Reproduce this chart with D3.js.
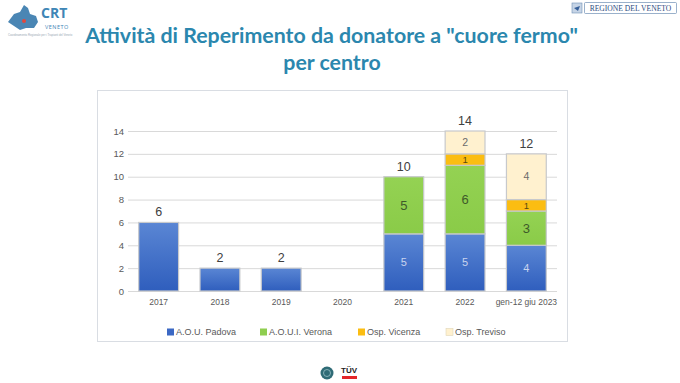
<!DOCTYPE html>
<html><head><meta charset="utf-8">
<script src="https://cdn.jsdelivr.net/npm/d3@7"></script>
<style>body{margin:0;background:#fff}svg{display:block}</style>
</head><body>
<svg id="c" width="680" height="383"></svg>
<script>
const categories = ["2017","2018","2019","2020","2021","2022","gen-12 giu 2023"];
const padova  = [6,2,2,0,5,5,4];
const verona  = [0,0,0,0,5,6,3];
const vicenza = [0,0,0,0,0,1,1];
const treviso = [0,0,0,0,0,2,4];
const seriesNames = ["A.O.U. Padova","A.O.U.I. Verona","Osp. Vicenza","Osp. Treviso"];
const yTicks = [0,2,4,6,8,10,12,14];

const svg = d3.select("#c");
const defs = svg.append("defs");
const gb = defs.append("linearGradient").attr("id","gBlue").attr("x1",0).attr("y1",0).attr("x2",0).attr("y2",1);
gb.append("stop").attr("offset","0%").attr("stop-color","#5a86d4");
gb.append("stop").attr("offset","100%").attr("stop-color","#2f5ebd");
const gg = defs.append("linearGradient").attr("id","gGreen").attr("x1",0).attr("y1",0).attr("x2",0).attr("y2",1);
gg.append("stop").attr("offset","0%").attr("stop-color","#94d253");
gg.append("stop").attr("offset","100%").attr("stop-color","#8acb48");

const fills = ["url(#gBlue)","url(#gGreen)","#fbbd12","#fff1cf"];
const legendFills = ["#3b68c4","#8fce4f","#fbbd12","#fff1cf"];

// Title
const titleColor = "#2b87ae";
const t1 = svg.append("text").attr("x",331.5).attr("y",43).attr("text-anchor","middle")
  .attr("font-family","Lato, 'Open Sans', sans-serif").attr("font-weight","bold")
  .attr("font-size",22).attr("fill",titleColor)
  .text('Attività di Reperimento da donatore a "cuore fermo"');
const w1 = t1.node().getComputedTextLength();
const fs = 22*493/w1;
t1.attr("font-size", fs);
svg.append("text").attr("x",332).attr("y",70).attr("text-anchor","middle")
  .attr("font-family","Lato, 'Open Sans', sans-serif").attr("font-weight","bold")
  .attr("font-size",fs).attr("fill",titleColor).text("per centro");

// Chart frame
svg.append("rect").attr("x",97.5).attr("y",90.5).attr("width",470).attr("height",251)
  .attr("fill","#fff").attr("stroke","#d9dde3").attr("stroke-width",1);

const x = d3.scaleBand().domain(categories).range([128,557]).paddingInner(0.35).paddingOuter(0.175);
const y = d3.scaleLinear().domain([0,14]).range([291,131]);

const font = "'Liberation Sans', Arial, sans-serif";
// gridlines
svg.append("g").selectAll("line").data(yTicks).join("line")
  .attr("x1",128).attr("x2",557).attr("y1",d=>y(d)+0.5).attr("y2",d=>y(d)+0.5)
  .attr("stroke","#d9d9d9").attr("stroke-width",1);

// y axis
const yAxis = svg.append("g").attr("transform","translate(124,0)")
  .call(d3.axisLeft(y).tickValues(yTicks).tickSize(0).tickPadding(0));
yAxis.select(".domain").remove();
yAxis.selectAll("text").attr("font-family",font).attr("font-size",9.5).attr("fill","#595959");

// x axis
const xAxis = svg.append("g").attr("transform","translate(0,299)")
  .call(d3.axisBottom(x).tickSize(0).tickPadding(0));
xAxis.select(".domain").remove();
xAxis.selectAll("text").attr("font-family",font).attr("font-size",8.5).attr("fill","#595959");

// stacks
const table = categories.map((c,i)=>({cat:c, s0:padova[i], s1:verona[i], s2:vicenza[i], s3:treviso[i]}));
const stack = d3.stack().keys(["s0","s1","s2","s3"])(table);
const layers = svg.append("g").selectAll("g").data(stack).join("g").attr("fill",(d,i)=>fills[i]);
layers.selectAll("rect").data(d=>d.filter(p=>p[1]-p[0]>0)).join("rect")
  .attr("x",d=>x(d.data.cat)).attr("width",x.bandwidth())
  .attr("y",d=>y(d[1])).attr("height",d=>y(d[0])-y(d[1]))
  .attr("stroke","#c7c9cc").attr("stroke-width",1.2);

// inside labels (only for multi-series bars)
const inStyle = [
  {size:11, color:"#c9d4ee"},
  {size:13, color:"#3e5a2a"},
  {size:9.5, color:"#5a4a10"},
  {size:10.5, color:"#6b6b6b"}
];
stack.forEach((layer,li)=>{
  layer.forEach(p=>{
    const v = p[1]-p[0];
    const total = p.data.s0+p.data.s1+p.data.s2+p.data.s3;
    if (v>0 && total!==v) {
      svg.append("text").attr("x",x(p.data.cat)+x.bandwidth()/2).attr("y",(y(p[0])+y(p[1]))/2)
        .attr("dy","0.36em").attr("text-anchor","middle").attr("font-family",font)
        .attr("font-size",inStyle[li].size).attr("fill",inStyle[li].color).text(v);
    }
  });
});
// totals
table.forEach(d=>{
  const tot = d.s0+d.s1+d.s2+d.s3;
  if (tot>0) svg.append("text").attr("x",x(d.cat)+x.bandwidth()/2).attr("y",y(tot)-6)
    .attr("text-anchor","middle").attr("font-family",font).attr("font-size",12.5)
    .attr("fill","#404040").text(tot);
});

// legend
const legX = [167,260,358,446];
const lg = svg.append("g").selectAll("g").data(seriesNames).join("g")
  .attr("transform",(d,i)=>`translate(${legX[i]},332)`);
lg.append("rect").attr("x",0).attr("y",-3.5).attr("width",7).attr("height",7)
  .attr("fill",(d,i)=>legendFills[i]).attr("stroke",(d,i)=>i===3?"#e0d6b8":"none").attr("stroke-width",0.6);
lg.append("text").attr("x",9).attr("y",0).attr("dy","0.35em").attr("font-family",font)
  .attr("font-size",9).attr("fill","#595959").text(d=>d);

// CRT logo (top-left)
const logo = svg.append("g");
logo.append("path").attr("d","M8,22 L14,14 L20,12 L24,5 L28,8 L30,14 L36,16 L38,22 L34,28 L26,28 L20,30 L14,26 Z")
  .attr("fill","#4a86b4");
logo.append("circle").attr("cx",24).attr("cy",21).attr("r",2).attr("fill","#e0483e");
logo.append("text").attr("x",41).attr("y",18).attr("font-family","'Open Sans', sans-serif").attr("font-weight","bold")
  .attr("font-size",14).attr("fill","#3f86b6").text("CRT");
logo.append("text").attr("x",45).attr("y",29).attr("font-family","'Open Sans', sans-serif")
  .attr("font-size",5.5).attr("fill","#3f86b6").attr("letter-spacing",0.5).text("VENETO");
logo.append("text").attr("x",8).attr("y",35.5).attr("font-family",font)
  .attr("font-size",2.8).attr("fill","#9aa7b4").text("Coordinamento Regionale per i Trapianti del Veneto");

// Regione del Veneto logo (top-right)
const rv = svg.append("g");
rv.append("rect").attr("x",572).attr("y",3).attr("width",10).attr("height",10).attr("fill","#c6d4e6").attr("stroke","#6f8fb5").attr("stroke-width",0.6);
rv.append("path").attr("d","M574,8 L580,6 L578,11 Z").attr("fill","#37609a");
rv.append("rect").attr("x",584.5).attr("y",2.5).attr("width",92).attr("height",11).attr("fill","#fff").attr("stroke","#6f8fb5").attr("stroke-width",0.7).attr("rx",1);
rv.append("text").attr("x",630.5).attr("y",11).attr("text-anchor","middle").attr("font-family","'Liberation Serif', serif")
  .attr("font-size",7.6).attr("fill","#2c4c82").text("REGIONE DEL VENETO");

// bottom logos
svg.append("circle").attr("cx",327).attr("cy",373).attr("r",6.5).attr("fill","#2f6b76");
svg.append("circle").attr("cx",327).attr("cy",373).attr("r",3.5).attr("fill","none").attr("stroke","#9cc3c8").attr("stroke-width",0.8);
svg.append("text").attr("x",349).attr("y",373).attr("text-anchor","middle").attr("font-family",font).attr("font-weight","bold")
  .attr("font-size",8).attr("fill","#222").text("TÜV");
svg.append("rect").attr("x",342).attr("y",376).attr("width",15).attr("height",3).attr("fill","#e3262a");
</script>
</body></html>
